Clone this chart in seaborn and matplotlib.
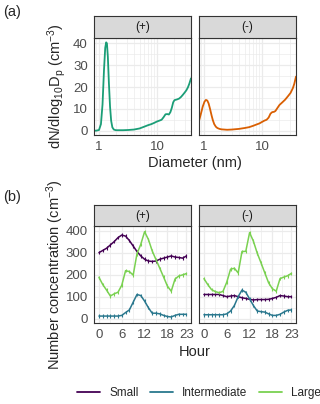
import matplotlib
matplotlib.use("Agg")
import matplotlib.pyplot as plt
import seaborn as sns
import pandas as pd
from matplotlib.ticker import FixedLocator, LogLocator, NullFormatter
from matplotlib.lines import Line2D

# ---- data: size distributions (panel a) ----
diam_pos = [0.82, 0.9, 1.0, 1.08, 1.15, 1.22, 1.28, 1.33, 1.37, 1.42, 1.48, 1.55, 1.62, 1.7, 1.8,
            1.95, 2.2, 2.6, 3.2, 4.0, 5.0, 6.0, 7.0, 8.0, 9.0, 10.0, 11.0, 12.0, 13.0, 14.0, 15.0,
            16.0, 17.0, 18.0, 19.0, 20.0, 22.0, 24.0, 26.0, 28.0, 30.0, 32.0, 34.0, 36.0, 38.5]
dndlog_pos = [0, 0, 0.3, 3, 12, 28, 38, 40.5, 40, 34, 22, 11, 4.5, 1.5, 0.5,
              0.2, 0.2, 0.2, 0.3, 0.5, 1.0, 1.8, 2.5, 3.0, 3.6, 4.2, 4.6, 5.0, 6.2, 7.5, 7.6,
              7.4, 8.5, 10.5, 13, 14, 14.3, 14.7, 15.5, 16.5, 17.5, 18.5, 19.8, 21.5, 24]
diam_neg = [0.82, 0.88, 0.95, 1.02, 1.08, 1.14, 1.2, 1.27, 1.35, 1.42, 1.5, 1.6, 1.7, 1.85, 2.0,
            2.5, 3.0, 4.0, 5.0, 6.0, 7.0, 8.0, 9.0, 10.0, 11.0, 12.0, 13.0, 14.0, 15.0, 16.0,
            17.0, 18.0, 20.0, 22.0, 25.0, 28.0, 31.0, 34.0, 36.0, 38.5]
dndlog_neg = [4.5, 7.5, 11, 13.3, 14.1, 13.8, 12.5, 10, 7, 4.8, 3, 1.8, 1.2, 0.8, 0.6,
              0.4, 0.5, 0.8, 1.2, 1.6, 2.2, 2.8, 3.3, 4.0, 4.6, 5.0, 6.0, 7.8, 8.5, 8.6,
              9.0, 10.0, 11.8, 12.8, 14.2, 15.8, 17.3, 19.5, 21.5, 24.8]

# ---- data: diurnal number concentration (panel b) ----
hours = list(range(24))
small_pos = [300, 310, 320, 335, 350, 368, 380, 375, 355, 330, 305, 285, 270, 262, 260, 262,
             270, 275, 280, 285, 280, 278, 275, 285]
inter_pos = [12, 12, 12, 12, 12, 12, 15, 28, 40, 75, 110, 105, 80, 50, 25, 25, 22, 15, 10, 8,
             15, 20, 20, 20]
large_pos = [188, 155, 130, 103, 113, 120, 152, 218, 214, 198, 295, 338, 395, 360, 308, 268,
             229, 189, 148, 125, 180, 194, 199, 205]
small_neg = [110, 110, 110, 110, 110, 105, 100, 103, 105, 100, 95, 92, 88, 85, 87, 87, 87, 88,
             92, 97, 105, 103, 100, 100]
inter_neg = [18, 18, 18, 18, 18, 18, 22, 35, 60, 100, 130, 120, 90, 60, 35, 32, 30, 22, 15, 15,
             20, 30, 38, 40]
large_neg = [182, 155, 132, 123, 118, 124, 166, 225, 229, 208, 305, 306, 391, 352, 298, 254,
             208, 163, 136, 125, 182, 189, 195, 206]
err_half = 8

facets = ["(+)", "(-)"]
sizes = ["Small", "Intermediate", "Large"]
size_cols = ["#440154", "#2A788E", "#7AD151"]
dist_cols = ["#1B9E77", "#D95F02"]

sns.set_style("white")
plt.rcParams["font.family"] = ["Liberation Sans", "DejaVu Sans"]
plt.rcParams["mathtext.fontset"] = "custom"
plt.rcParams["mathtext.rm"] = "Liberation Sans"
plt.rcParams["mathtext.it"] = "Liberation Sans"
plt.rcParams["mathtext.default"] = "rm"

fig = plt.figure(figsize=(3.2, 4.04), dpi=100)

W, H = 320.0, 404.0
def box(x0, x1, y0, y1):
    return [x0 / W, 1 - y1 / H, (x1 - x0) / W, (y1 - y0) / H]

px_left = [(94, 191), (199, 296)]
grid_c = "#EBEBEB"
border_c = "#333333"
tick_c = "#4D4D4D"

def style_axis(ax):
    ax.set_facecolor("white")
    for s in ax.spines.values():
        s.set_color(border_c)
        s.set_linewidth(0.8)
    ax.tick_params(axis="both", which="major", length=3, width=0.6, color=border_c,
                   labelsize=9.5, labelcolor=tick_c, pad=1.5)
    ax.tick_params(axis="both", which="minor", length=0)
    ax.grid(True, which="major", color=grid_c, lw=0.9)
    ax.grid(True, which="minor", color=grid_c, lw=0.5)
    ax.set_axisbelow(True)

def strip(x0, x1, y0, y1, label):
    sax = fig.add_axes(box(x0, x1, y0, y1))
    sax.set_facecolor("#D9D9D9")
    sax.set_xticks([])
    sax.set_yticks([])
    for s in sax.spines.values():
        s.set_color(border_c)
        s.set_linewidth(0.8)
    sax.text(0.5, 0.5, label, ha="center", va="center", fontsize=8.5, color="#1A1A1A",
             transform=sax.transAxes)

# ---- panel (a) ----
dist_frames = [pd.DataFrame({"d": diam_pos, "v": dndlog_pos}),
               pd.DataFrame({"d": diam_neg, "v": dndlog_neg})]
for i, (x0, x1) in enumerate(px_left):
    ax = fig.add_axes(box(x0, x1, 38, 135))
    ax.set_xscale("log")
    sns.lineplot(data=dist_frames[i], x="d", y="v", color=dist_cols[i], lw=1.3, ax=ax)
    ax.set_xlim(0.82, 38.5)
    ax.set_ylim(-2.0, 42.5)
    ax.xaxis.set_major_locator(FixedLocator([1, 10]))
    ax.set_xticklabels(["1", "10"])
    ax.xaxis.set_minor_locator(LogLocator(base=10, subs=[2, 3, 4, 5, 6, 7, 8, 9]))
    ax.xaxis.set_minor_formatter(NullFormatter())
    ax.yaxis.set_major_locator(FixedLocator([0, 10, 20, 30, 40]))
    ax.yaxis.set_minor_locator(FixedLocator([5, 15, 25, 35]))
    style_axis(ax)
    ax.set_xlabel("")
    ax.set_ylabel("")
    if i == 1:
        ax.tick_params(axis="y", which="both", length=0, labelleft=False)
    strip(x0, x1, 16, 38, facets[i])

fig.text(57 / W, 1 - 86 / H, r"dN/dlog$_{10}$D$_{p}$ (cm$^{-3}$)", rotation=90,
         ha="center", va="center", fontsize=10.5)
fig.text(195 / W, 1 - 163 / H, "Diameter (nm)", ha="center", va="center", fontsize=10.5)
fig.text(3 / W, 1 - 12 / H, "(a)", ha="left", va="center", fontsize=10.5)

# ---- panel (b) ----
series = [[small_pos, inter_pos, large_pos], [small_neg, inter_neg, large_neg]]
for i, (x0, x1) in enumerate(px_left):
    ax = fig.add_axes(box(x0, x1, 226, 323))
    for j, name in enumerate(sizes):
        df = pd.DataFrame({"hour": hours, "conc": series[i][j]})
        sns.lineplot(data=df, x="hour", y="conc", color=size_cols[j], lw=1.1, ax=ax)
        ax.errorbar(hours, series[i][j], yerr=err_half, fmt="none", ecolor=size_cols[j],
                    elinewidth=0.8, capsize=0)
    ax.set_xlim(-1.3, 24.2)
    ax.set_ylim(-19.5, 421)
    ax.xaxis.set_major_locator(FixedLocator([0, 6, 12, 18, 23]))
    ax.xaxis.set_minor_locator(FixedLocator([3, 9, 15, 20.5]))
    ax.yaxis.set_major_locator(FixedLocator([0, 100, 200, 300, 400]))
    ax.yaxis.set_minor_locator(FixedLocator([50, 150, 250, 350]))
    style_axis(ax)
    ax.set_xlabel("")
    ax.set_ylabel("")
    if i == 1:
        ax.tick_params(axis="y", which="both", length=0, labelleft=False)
    strip(x0, x1, 205, 226, facets[i])

fig.text(55 / W, 1 - 275 / H, "Number concentration (cm$^{-3}$)", rotation=90,
         ha="center", va="center", fontsize=10.5)
fig.text(195 / W, 1 - 352 / H, "Hour", ha="center", va="center", fontsize=10.5)
fig.text(3 / W, 1 - 197 / H, "(b)", ha="left", va="center", fontsize=10.5)

handles = [Line2D([], [], color=c, lw=1.3) for c in size_cols]
fig.legend(handles, sizes, loc="center", bbox_to_anchor=(199 / W, 1 - 393 / H), ncol=3,
           frameon=False, fontsize=8.5, handlelength=1.9, handletextpad=0.8, columnspacing=1.0)

fig.savefig("out.png", dpi=100)
